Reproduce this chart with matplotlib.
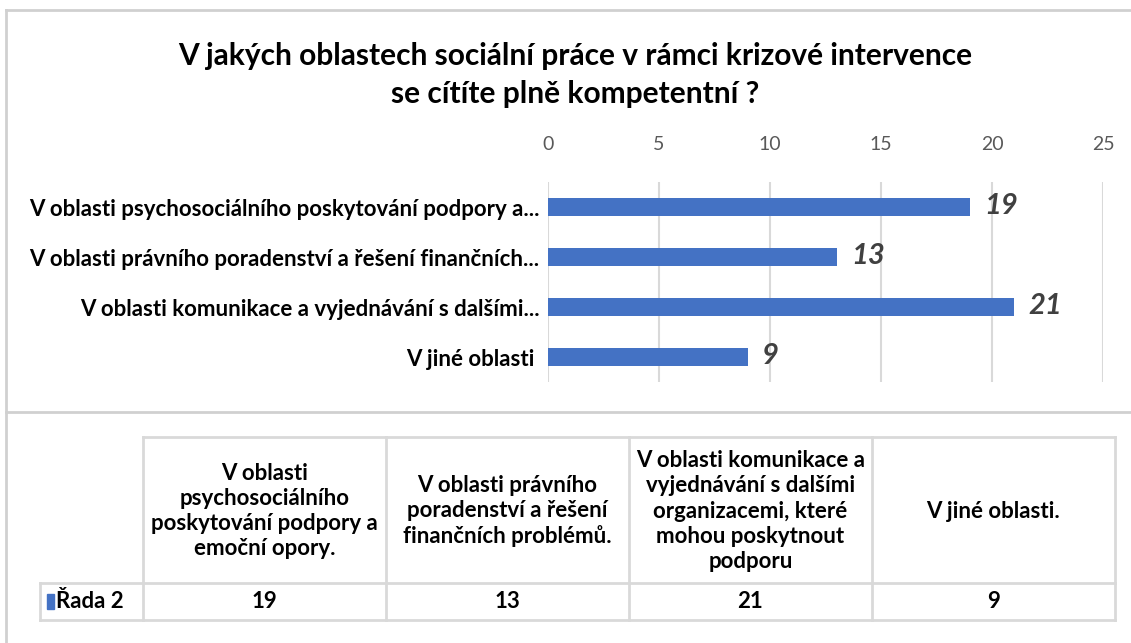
import matplotlib.pyplot as plt
from matplotlib.patches import Rectangle

# Data
axis_labels = [
    "V oblasti psychosociálního poskytování podpory a...",
    "V oblasti právního poradenství a řešení finančních...",
    "V oblasti komunikace a vyjednávání s dalšími...",
    "V jiné oblasti ",
]
table_headers = [
    "V oblasti\npsychosociálního\nposkytování podpory a\nemoční opory.",
    "V oblasti právního\nporadenství a řešení\nfinančních problémů.",
    "V oblasti komunikace a\nvyjednávání s dalšími\norganizacemi, které\nmohou poskytnout\npodporu",
    "V jiné oblasti.",
]
values = [19, 13, 21, 9]
series_name = "Řada 2"
x_ticks = [0, 5, 10, 15, 20, 25]
title = "V jakých oblastech sociální práce v rámci krizové intervence\nse cítíte plně kompetentní ?"

bar_color = "#4472C4"
grid_color = "#d9d9d9"
plt.rcParams['font.family'] = ['Lato', 'DejaVu Sans']

W, H = 1131, 643
fig = plt.figure(figsize=(W / 100, H / 100), dpi=100)

# background axes in pixel coordinates for frame and table
bg = fig.add_axes([0, 0, 1, 1])
bg.set_xlim(0, W)
bg.set_ylim(H, 0)
bg.axis('off')

# screenshot frame
bg.plot([6, 6], [10, H], color="#d0d0d0", lw=2)
bg.plot([6, W], [10, 10], color="#d0d0d0", lw=2)
bg.plot([6, W], [412, 412], color="#d0d0d0", lw=2)

bg.text(575, 75, title, ha='center', va='center', fontsize=21.5,
        fontweight='bold', linespacing=1.4, color='black')

# bar chart
ax = fig.add_axes([548 / W, 1 - 382 / H, (1103 - 548) / W, 200 / H])
ypos = list(range(len(values)))
ax.barh(ypos, values, height=0.36, color=bar_color, zorder=3)
ax.set_ylim(len(values) - 0.5, -0.5)
ax.set_xlim(0, 25)
ax.set_xticks(x_ticks)
ax.xaxis.tick_top()
ax.tick_params(axis='x', length=0, pad=21, labelsize=14, labelcolor="#595959")
ax.set_yticks(ypos)
ax.set_yticklabels(axis_labels, fontsize=16, fontweight='bold')
ax.tick_params(axis='y', length=0, pad=6)
ax.grid(axis='x', color=grid_color, lw=1.5, zorder=0)
for s in ax.spines.values():
    s.set_visible(False)
for y, v in zip(ypos, values):
    ax.text(v + 0.65, y - 0.02, str(v), va='center', ha='left', fontsize=21,
            fontweight='bold', fontstyle='italic', color="#404040")

# data table
col_edges = [143, 386, 629, 872, 1115]
top, mid, bot = 437, 583, 620
left = 40
lc = "#d9d9d9"
bg.plot([col_edges[0], col_edges[-1]], [top, top], color=lc, lw=2)
bg.plot([left, col_edges[-1]], [mid, mid], color=lc, lw=2)
bg.plot([left, col_edges[-1]], [bot, bot], color=lc, lw=2)
for x in col_edges:
    bg.plot([x, x], [top, bot], color=lc, lw=2)
bg.plot([left, left], [mid, bot], color=lc, lw=2)

for i, (hdr, v) in enumerate(zip(table_headers, values)):
    cx = (col_edges[i] + col_edges[i + 1]) / 2
    bg.text(cx, (top + mid) / 2 + 1, hdr, ha='center', va='center', fontsize=16,
            fontweight='bold', linespacing=1.25)
    bg.text(cx, (mid + bot) / 2, str(v), ha='center', va='center', fontsize=16,
            fontweight='bold')

bg.add_patch(Rectangle((47, 594), 7, 15, color=bar_color))
bg.text(56, (mid + bot) / 2, series_name, ha='left', va='center', fontsize=16,
        fontweight='bold')

fig.savefig("out.png", dpi=100)
